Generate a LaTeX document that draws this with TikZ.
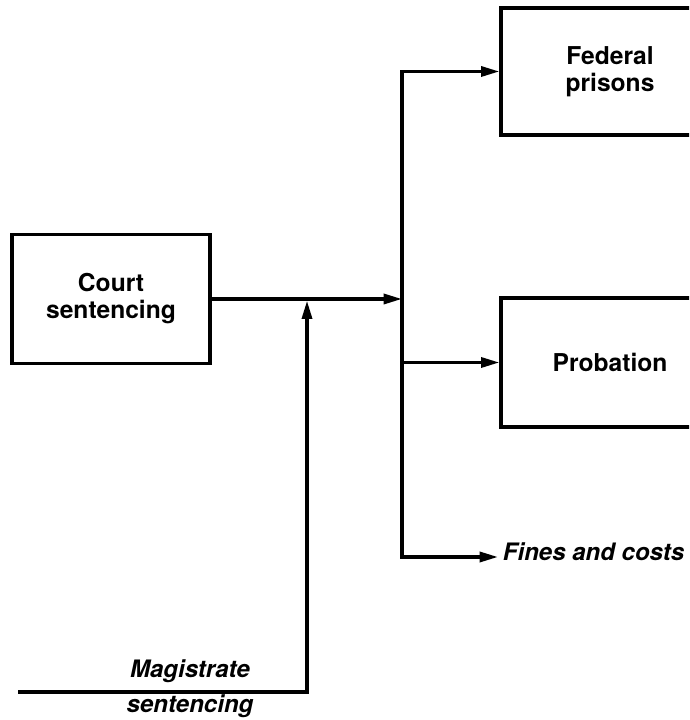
\documentclass[tikz,border=0pt]{standalone}
\usepackage{fontspec}
\setmainfont{TeX Gyre Heros}
\usetikzlibrary{arrows.meta}

\begin{document}
\begin{tikzpicture}[
    box/.style={draw,line width=2.8pt,align=center,font=\bfseries\fontsize{21}{23}\selectfont},
    flow/.style={line width=2.8pt,-{Triangle[length=0.55cm,width=0.3cm]}},
    lbl/.style={font=\bfseries\itshape\fontsize{20.5}{22}\selectfont,inner sep=0pt}]
    \useasboundingbox (0,0) rectangle (20.67,21.6);
    \clip (0,0) rectangle (20.67,21.6);
    \node[box,minimum width=5.94cm,minimum height=3.87cm] (court) at (3.33,12.63) {Court\\sentencing};
    \node[box,minimum width=6.54cm,minimum height=3.81cm] (federal) at (18.3,19.455) {Federal\\prisons};
    \node[box,minimum width=6.54cm,minimum height=3.87cm] (probation) at (18.3,10.725) {Probation};
    \coordinate (split) at (12.06,12.63); % junction
    \coordinate (finesarrow) at (14.94,4.89);
    \node[lbl,anchor=base west,xshift=4pt,yshift=-3pt] (fines) at (finesarrow) {Fines and costs};
    \coordinate (magstart) at (0.54,0.84);
    \coordinate (magturn) at (9.21,0.84);
    \node[lbl,anchor=base] (magtop) at (5.7,1.26) {Magistrate};
    \node[lbl,anchor=base] (magbot) at (5.7,0.21) {sentencing};
    % flow lines
    \draw[flow] (court.east) -- (split);
    \draw[flow] (split) |- (federal.west);
    \draw[flow] (split |- probation.west) -- (probation.west);
    \draw[flow] (split) |- (finesarrow);
    \draw[flow] (magstart) -- (magturn) -- ([yshift=-1.4pt]magturn |- court.east);
\end{tikzpicture}
\end{document}
